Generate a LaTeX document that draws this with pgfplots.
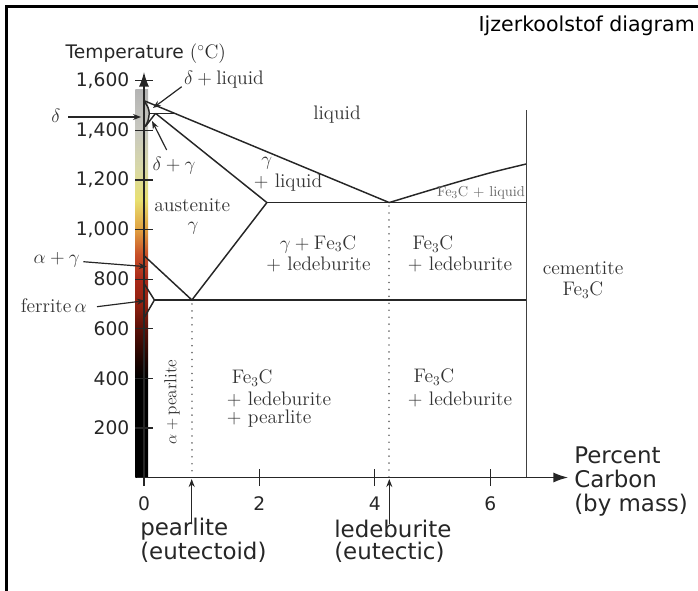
\documentclass[border=0pt]{standalone}
\usepackage{fontspec}
\usepackage{pgfplots}
\pgfplotsset{compat=1.18}
\usetikzlibrary{arrows.meta}
\newfontfamily\dvs{DejaVu Sans}
\definecolor{tb1}{HTML}{200400}
\definecolor{tb2}{HTML}{581008}
\definecolor{tb3}{HTML}{902010}
\definecolor{tb4}{HTML}{A82818}
\definecolor{tb5}{HTML}{C85028}
\definecolor{tb6}{HTML}{E0A040}
\definecolor{tb7}{HTML}{E8E070}
\definecolor{tb8}{HTML}{D8D8A8}
\definecolor{tb9}{HTML}{C8C8C0}
\definecolor{tb10}{HTML}{B4B4B4}
\pgfdeclareverticalshading{tempbar}{100bp}{color(0bp)=(black); color(25bp)=(black); color(37.78bp)=(black); color(40.34bp)=(tb1); color(44.17bp)=(tb2); color(47.36bp)=(tb3); color(50.56bp)=(tb4); color(53.75bp)=(tb5); color(56.95bp)=(tb6); color(60.78bp)=(tb7); color(64.94bp)=(tb8); color(69.73bp)=(tb9); color(75bp)=(tb10); color(100bp)=(tb10)}
\begin{document}
\begin{tikzpicture}
\useasboundingbox (0,0) rectangle (523.5pt,-443.25pt);
\begin{axis}[
  anchor=origin, at={(108pt,-358.125pt)},
  x=43.275pt, y=0.18593pt,
  xmin=-0.12, xmax=7.35, ymin=0, ymax=1636,
  axis lines=middle, axis on top, clip=false,
  axis line style={black!85, line width=1.1pt, -{Latex[length=11pt,width=7.5pt]}},
  xtick={0,2,4,6}, xticklabels={0,2,4,6},
  ytick={200,400,600,800,1000,1200,1400,1600},
  yticklabels={200,400,600,800,{1,000},{1,200},{1,400},{1,600}},
  hide obscured x ticks=false, hide obscured y ticks=false,
  tick align=center, major tick length=13pt,
  tick style={black!85, line width=0.9pt},
  ticklabel style={font=\dvs\fontsize{14}{16}\selectfont, text=black!85},
  xticklabel style={yshift=-4.5pt},
  yticklabel style={xshift=-1pt},
  ph/.style={black!85, line width=1.1pt, no marks},
  dt/.style={black!55, line width=1.3pt, dash pattern=on 0.01pt off 5.2pt, line cap=round, no marks},
]
\shade[shading=tempbar] (axis cs:-0.15,0) rectangle (axis cs:0.07,1565);
% liquidus
\addplot[ph] coordinates {(0,1520) (0.53,1469) (4.25,1109)};
% peritectic
\addplot[ph] coordinates {(0.09,1469) (0.53,1469)};
% solidus
\addplot[ph] coordinates {(0.2,1469) (2.13,1109)};
% delta boundary
\addplot[ph, smooth] coordinates {(0,1520) (0.07,1492) (0.09,1469) (0.07,1440) (0.02,1415)};
% gamma (A4)
\addplot[ph] coordinates {(0.2,1469) (0.02,1415)};
% eutectic
\addplot[ph] coordinates {(2.13,1109) (6.63,1109)};
% A3 and Acm
\addplot[ph] coordinates {(0,895) (0.83,716) (2.13,1109)};
% eutectoid
\addplot[ph] coordinates {(0.18,716) (6.63,716)};
% ferrite
\addplot[ph] coordinates {(0,783) (0.18,716) (0,643)};
% Fe3C liquidus
\addplot[ph, smooth] coordinates {(4.25,1109) (4.8,1148) (5.45,1193) (6.05,1232) (6.63,1265)};
% cementite
\addplot[black!75, line width=1.3pt, no marks] coordinates {(6.63,0) (6.63,1482)};
% dotted verticals
\addplot[dt] coordinates {(0.83,700) (0.83,0)};
\addplot[dt] coordinates {(4.25,1095) (4.25,0)};
\end{axis}
\begin{scope}[x=0.75pt,y=-0.75pt, every node/.style={inner sep=0pt},
  lab/.style={font=\fontsize{14.7}{17}\selectfont, text=black!80},
  big/.style={font=\dvs\fontsize{17.2}{20}\selectfont, text=black!85},
  arr/.style={black!85, line width=0.9pt, -{Stealth[length=6pt,width=4.5pt]}}]
\draw[black, line width=2.25pt] (6,591) -- (6,6.5) -- (698,6.5);
\node[anchor=east, font=\dvs\fontsize{15.4}{18}\selectfont] at (695,26) {Ijzerkoolstof diagram};
\node[font=\dvs\fontsize{14}{16}\selectfont, text=black!85] at (145.8,54) {Temperature {\rmfamily\fontsize{14.7}{17}\selectfont($^\circ$C)}};
\node[lab] at (56,116) {$\delta$};
\node[lab] at (224,80) {$\delta+\mathrm{liquid}$};
\node[lab] at (174,165.5) {$\delta+\gamma$};
\node[lab] at (56.7,260) {$\alpha+\gamma$};
\node[lab] at (53.8,305.7) {ferrite\,$\alpha$};
\node[lab] at (337,115) {liquid};
\node[lab] at (266.7,163) {$\gamma$};
\node[lab] at (288,183) {$+$ liquid};
\node[lab] at (192.2,205) {austenite};
\node[lab] at (193,228.5) {$\gamma$};
\node[lab] at (318,244) {$\gamma+\mathrm{Fe_3C}$};
\node[lab] at (318.5,264) {$+$ ledeburite};
\node[lab] at (433,244) {Fe$_3$C};
\node[lab] at (460,264) {$+$ ledeburite};
\node[lab, font=\fontsize{10.8}{12}\selectfont, text=black!60] at (481,192.7) {Fe$_3$C $+$ liquid};
\node[lab] at (583,268) {cementite};
\node[lab] at (583,290) {Fe$_3$C};
\node[lab, font=\fontsize{13}{15}\selectfont, rotate=90] at (172,402) {$\alpha+\mathrm{pearlite}$};
\node[lab, anchor=west] at (231.7,378) {Fe$_3$C};
\node[lab, anchor=west] at (226.7,399) {$+$ ledeburite};
\node[lab, anchor=west] at (226.7,419) {$+$ pearlite};
\node[lab] at (434,377) {Fe$_3$C};
\node[lab] at (460,399) {$+$ ledeburite};
\node[big, anchor=west] at (574,455) {Percent};
\node[big, anchor=west] at (574,479) {Carbon};
\node[big, anchor=west] at (574,505) {(by mass)};
\node[big, anchor=west] at (140,529) {pearlite};
\node[big, anchor=west] at (140,552.5) {(eutectoid)};
\node[big, anchor=west] at (334,529) {ledeburite};
\node[big, anchor=west] at (334,552.5) {(eutectic)};
\draw[arr] (68,117) -- (141,117);
\draw[arr] (181.7,86.7) -- (153,108);
\draw[arr] (166.7,150) -- (152,121);
\draw[arr] (83.3,261.7) -- (146.7,266.7);
\draw[arr] (97,306.7) -- (145,300.7);
\draw[arr] (191.7,524) -- (191.7,479);
\draw[arr] (389.3,524) -- (389.3,479);
\end{scope}
\end{tikzpicture}
\end{document}
